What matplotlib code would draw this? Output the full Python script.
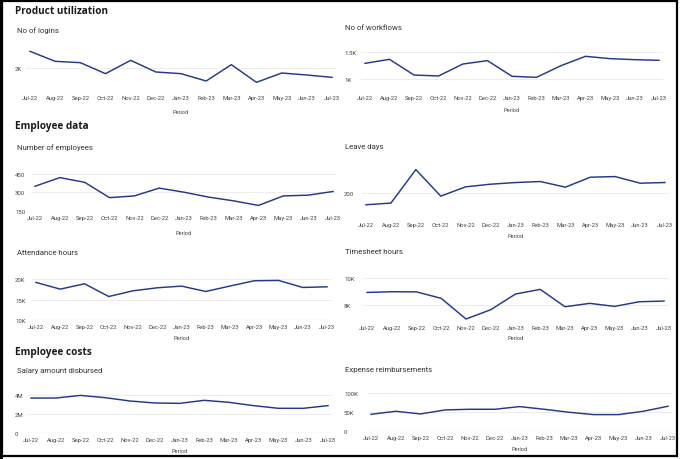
import matplotlib
matplotlib.use("Agg")
import matplotlib.pyplot as plt
from matplotlib.patches import Rectangle

plt.rcParams["font.family"] = ["Roboto", "DejaVu Sans"]

W, H = 680, 460
LINE = "#22398a"
GRID = "#ececec"
TXT = "#333333"
TICK = "#444444"

periods = ["Jul-22", "Aug-22", "Sep-22", "Oct-22", "Nov-22", "Dec-22", "Jan-23",
           "Feb-23", "Mar-23", "Apr-23", "May-23", "Jun-23", "Jul-23"]

logins = [2245, 2095, 2075, 1910, 2110, 1935, 1910, 1800, 2045, 1780, 1920, 1890, 1855]
workflows = [1296, 1370, 1080, 1062, 1284, 1346, 1056, 1037, 1253, 1426, 1383, 1364, 1352]
employees = [350, 420, 382, 258, 272, 335, 302, 262, 232, 195, 272, 278, 308]
leave_days = [165, 170, 271, 191, 219, 227, 232, 235, 218, 248, 250, 230, 232]
attendance = [19180, 17540, 18850, 15740, 17130, 17870, 18280, 16970, 18300, 19590, 19670, 17950, 18110]
timesheet = [8910, 8960, 8950, 8470, 6940, 7630, 8790, 9135, 7850, 8100, 7875, 8220, 8270]
salary = [3.68e6, 3.68e6, 3.96e6, 3.72e6, 3.37e6, 3.16e6, 3.12e6, 3.44e6, 3.23e6, 2.88e6, 2.60e6, 2.60e6, 2.88e6]
expenses = [44200, 52200, 45100, 55800, 57500, 57500, 64600, 57500, 49600, 43400, 43400, 52200, 65500]

# title, values, (x0, x1, ytop, ybot) px, ylim, ticks, tick labels, title y, period y, base line
panels = [
    ("No of logins", logins, (30, 332, 45, 92), (1650, 2355), [2000], ["2K"], 31, 113, False),
    ("No of workflows", workflows, (365, 659, 45, 92), (784, 1654), [1000, 1500], ["1K", "1.5K"], 28, 111, False),
    ("Number of employees", employees, (35, 333, 165, 212), (150, 530), [150, 300, 450], ["150", "300", "450"], 148, 234, False),
    ("Leave days", leave_days, (366, 665, 160, 219), (125, 303), [200], ["200"], 147, 236, False),
    ("Attendance hours", attendance, (36, 327, 268, 321), (10000, 22950), [10000, 15000, 20000], ["10K", "15K", "20K"], 253, 339, True),
    ("Timesheet hours", timesheet, (367, 664, 268, 322), (6794, 10792), [8000, 10000], ["8K", "10K"], 252, 339, False),
    ("Salary amount disbursed", salary, (31, 328, 385, 434), (0, 5.16e6), [0, 2e6, 4e6], ["0", "2M", "4M"], 371, 452, True),
    ("Expense reimbursements", expenses, (371, 668, 383, 432), (0, 129700), [0, 50000, 100000], ["0", "50K", "100K"], 370, 450, True),
]

fig = plt.figure(figsize=(W / 100, H / 100), dpi=100)

for title, vals, (x0, x1, yt, yb), ylim, ticks, tlabels, ty, py, base in panels:
    step = (x1 - x0) / 12
    m = 0.15
    left = x0 - m * step
    width = (x1 - x0) + 2 * m * step
    ax = fig.add_axes([left / W, 1 - yb / H, width / W, (yb - yt) / H])
    ax.plot(range(len(periods)), vals, color=LINE, lw=1.05, solid_joinstyle="round")
    ax.set_xlim(-m, 12 + m)
    ax.set_ylim(*ylim)
    ax.set_yticks(ticks)
    ax.set_yticklabels(tlabels)
    ax.set_xticks(range(len(periods)))
    ax.set_xticklabels(periods)
    for s in ax.spines.values():
        s.set_visible(False)
    ax.grid(axis="y", color=GRID, lw=0.7)
    ax.set_axisbelow(True)
    if base:
        ax.axhline(ylim[0], color="#b0b0b0", lw=0.8, zorder=1)
    col_left = 15 if x0 < 340 else 344
    ax.tick_params(axis="y", length=0, labelsize=4.3, labelcolor=TICK,
                   pad=(left - col_left) * 0.72)
    for lbl in ax.get_yticklabels():
        lbl.set_horizontalalignment("left")
    ax.tick_params(axis="x", length=0, labelsize=4.2, labelcolor=TICK, pad=3)
    ax.patch.set_alpha(0)
    tx = 17 if x0 < 340 else 345
    fig.text(tx / W, 1 - ty / H, title, fontsize=5.6, color=TXT, va="center", ha="left")
    fig.text((x0 + x1) / 2 / W, 1 - py / H, "Period", fontsize=4.1, color=TICK,
             va="center", ha="center")

for txt, y in [("Product utilization", 12), ("Employee data", 127), ("Employee costs", 353)]:
    fig.text(15 / W, 1 - y / H, txt, fontsize=7.2, fontweight="bold", color="#1a1a1a",
             va="center", ha="left", family=["Open Sans", "DejaVu Sans"])

# outer frame
fig.patches.append(Rectangle((2 / W, 3 / H), 675 / W, 455 / H, transform=fig.transFigure,
                             fill=False, edgecolor="black", lw=1.6))
fig.patches.append(Rectangle((0, 0), 3 / W, 1, transform=fig.transFigure,
                             facecolor="black", edgecolor="none"))

fig.savefig("out.png", dpi=100)
